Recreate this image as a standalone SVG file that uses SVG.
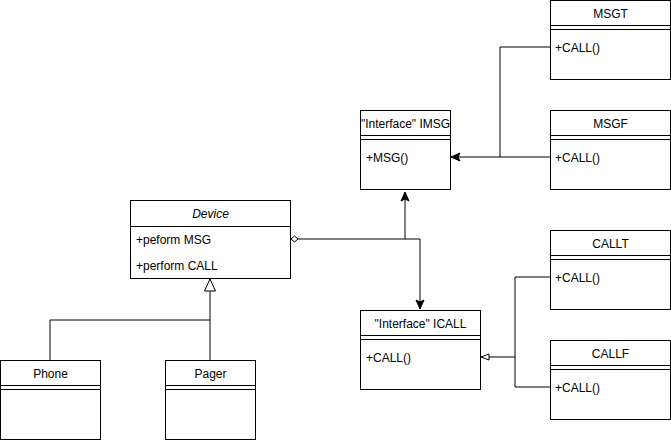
<svg xmlns="http://www.w3.org/2000/svg" width="671" height="441" viewBox="0 0 671 441">
<style>
.box{fill:#fff;stroke:#000;stroke-width:1}
.ln{stroke:#000;stroke-width:1;fill:none}
.t{font-family:"Liberation Sans",Arial,sans-serif;font-size:12px;fill:#000}
.c{text-anchor:middle}
.e{stroke:#000;stroke-width:1;fill:none}
</style>
<defs>
<marker id="arr" markerUnits="userSpaceOnUse" markerWidth="12" markerHeight="12" viewBox="0 0 12 12" refX="10" refY="6" orient="auto">
<path d="M1,2 L10,6 L1,10 L3,6 Z" fill="#000" stroke="#000" stroke-width="1"/>
</marker>
<marker id="tri" markerUnits="userSpaceOnUse" markerWidth="16" markerHeight="16" viewBox="0 0 16 16" refX="14" refY="8" orient="auto">
<path d="M2,2.5 L14,8 L2,13.5 Z" fill="#fff" stroke="#000" stroke-width="1"/>
</marker>
<marker id="tris" markerUnits="userSpaceOnUse" markerWidth="12" markerHeight="12" viewBox="0 0 12 12" refX="10" refY="6" orient="auto">
<path d="M2,3 L10,6 L2,9 Z" fill="#fff" stroke="#000" stroke-width="1"/>
</marker>
<marker id="dia" markerUnits="userSpaceOnUse" markerWidth="12" markerHeight="12" viewBox="0 0 12 12" refX="1" refY="6" orient="auto">
<path d="M1,6 L4.5,3 L8,6 L4.5,9 Z" fill="#fff" stroke="#000" stroke-width="1"/>
</marker>
</defs>

<g id="connectors">
<path class="e" d="M291,239 H405 V192" marker-start="url(#dia)" marker-end="url(#arr)"/>
<path class="e" d="M405,239 H420 V309" marker-end="url(#arr)"/>
<path class="e" d="M550,47 H500 V157"/>
<path class="e" d="M550,157 H451" marker-end="url(#arr)"/>
<path class="e" d="M550,277 H515 V387 H550"/>
<path class="e" d="M515,357 H481" marker-end="url(#tris)"/>
<path class="e" d="M50,360 V320 H210"/>
<path class="e" d="M210,360 V279" marker-end="url(#tri)"/>
</g>

<g id="device">
<rect class="box" x="130.5" y="200.5" width="160" height="78"/>
<line class="ln" x1="130.5" y1="226.5" x2="290.5" y2="226.5"/>
<text class="t c" x="210.5" y="217.5" font-style="italic">Device</text>
<text class="t" x="136" y="243.5">+peform MSG</text>
<text class="t" x="136" y="269.5">+perform CALL</text>
</g>

<g id="imsg">
<rect class="box" x="360.5" y="110.5" width="90" height="79"/>
<line class="ln" x1="360.5" y1="135.5" x2="450.5" y2="135.5"/>
<line class="ln" x1="360.5" y1="139.5" x2="450.5" y2="139.5"/>
<text class="t c" x="405.5" y="127.5">"Interface" IMSG</text>
<text class="t" x="366" y="161.5">+MSG()</text>
</g>

<g id="msgt">
<rect class="box" x="550.5" y="0.5" width="120" height="79"/>
<line class="ln" x1="550.5" y1="25.5" x2="670.5" y2="25.5"/>
<line class="ln" x1="550.5" y1="29.5" x2="670.5" y2="29.5"/>
<text class="t c" x="610.5" y="17.5">MSGT</text>
<text class="t" x="555" y="51.5">+CALL()</text>
</g>

<g id="msgf">
<rect class="box" x="550.5" y="110.5" width="120" height="79"/>
<line class="ln" x1="550.5" y1="135.5" x2="670.5" y2="135.5"/>
<line class="ln" x1="550.5" y1="139.5" x2="670.5" y2="139.5"/>
<text class="t c" x="610.5" y="127.5">MSGF</text>
<text class="t" x="555" y="161.5">+CALL()</text>
</g>

<g id="callt">
<rect class="box" x="550.5" y="230.5" width="120" height="79"/>
<line class="ln" x1="550.5" y1="255.5" x2="670.5" y2="255.5"/>
<line class="ln" x1="550.5" y1="259.5" x2="670.5" y2="259.5"/>
<text class="t c" x="610.5" y="247.5">CALLT</text>
<text class="t" x="555" y="281.5">+CALL()</text>
</g>

<g id="callf">
<rect class="box" x="550.5" y="340.5" width="120" height="79"/>
<line class="ln" x1="550.5" y1="365.5" x2="670.5" y2="365.5"/>
<line class="ln" x1="550.5" y1="369.5" x2="670.5" y2="369.5"/>
<text class="t c" x="610.5" y="357.5">CALLF</text>
<text class="t" x="555" y="391.5">+CALL()</text>
</g>

<g id="icall">
<rect class="box" x="360.5" y="310.5" width="120" height="79"/>
<line class="ln" x1="360.5" y1="335.5" x2="480.5" y2="335.5"/>
<line class="ln" x1="360.5" y1="339.5" x2="480.5" y2="339.5"/>
<text class="t c" x="420.5" y="327.5">"Interface" ICALL</text>
<text class="t" x="366" y="361.5">+CALL()</text>
</g>

<g id="phone">
<rect class="box" x="0.5" y="360.5" width="100" height="79"/>
<line class="ln" x1="0.5" y1="385.5" x2="100.5" y2="385.5"/>
<line class="ln" x1="0.5" y1="389.5" x2="100.5" y2="389.5"/>
<text class="t c" x="50.5" y="377.5">Phone</text>
</g>

<g id="pager">
<rect class="box" x="165.5" y="360.5" width="90" height="79"/>
<line class="ln" x1="165.5" y1="385.5" x2="255.5" y2="385.5"/>
<line class="ln" x1="165.5" y1="389.5" x2="255.5" y2="389.5"/>
<text class="t c" x="210.5" y="377.5">Pager</text>
</g>
</svg>
